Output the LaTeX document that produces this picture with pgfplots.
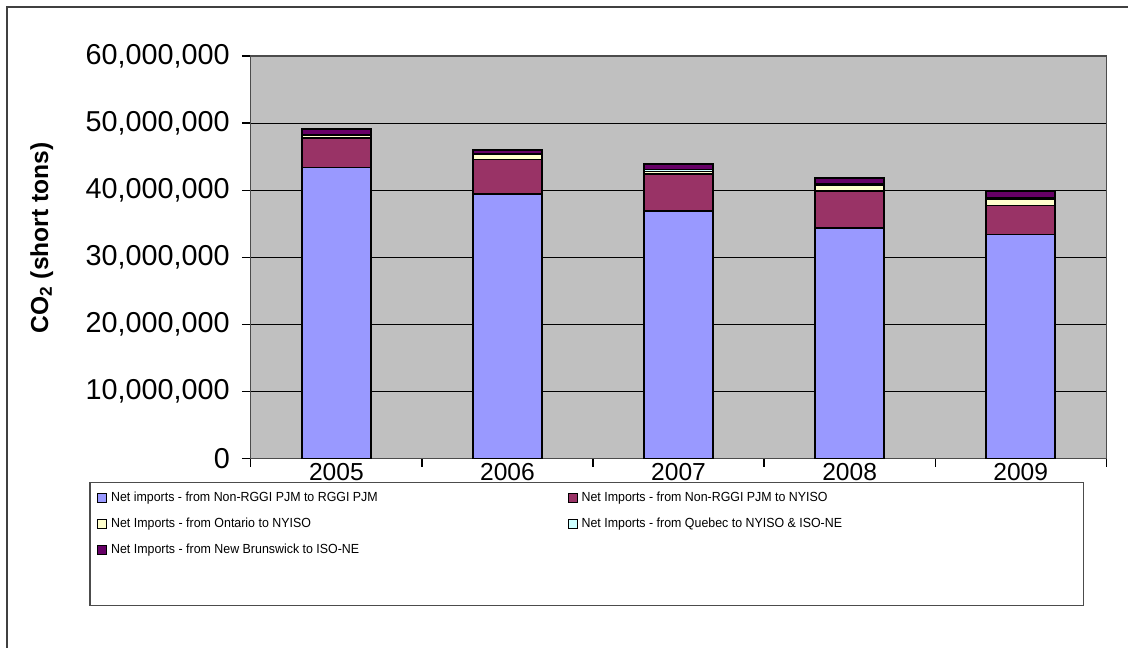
\documentclass[border=0pt]{standalone}
\usepackage{fontspec}
\setmainfont{Liberation Sans}
\usepackage{graphicx}
\usepackage{pgfplots}
\pgfplotsset{compat=1.18}

\definecolor{pjmblue}{HTML}{9999FF}
\definecolor{nyisomaroon}{HTML}{993366}
\definecolor{ontyellow}{HTML}{FFFFCC}
\definecolor{quecyan}{HTML}{CCFFFF}
\definecolor{nbpurple}{HTML}{660066}
\definecolor{plotgray}{HTML}{C0C0C0}

\pgfplotsset{
  legsq/.style={legend image code/.code={%
    \draw[##1,line width=0.4pt] (0pt,-2.25pt) rectangle (4.5pt,2.25pt);}},
}
% legend text, slightly condensed, in a fixed-width cell
\newcommand{\legtxt}[1]{\scalebox{0.94}[1]{#1}}
\newcommand{\legcell}[1]{\makebox[228.5pt][l]{\legtxt{#1}}}

\begin{document}
\begin{tikzpicture}
% page area (axis box lower-left corner sits at the origin)
\path (-125.5pt,229.5pt) rectangle (439pt,-94.5pt);
% outer chart frame
\draw[black!75,line width=0.75pt] (-122pt,-94.5pt) -- (-122pt,226pt) -- (439pt,226pt);
% legend frame
\draw[black!70,line width=0.6pt,fill=white] (-80.5pt,-12pt) rectangle (416.5pt,-73.5pt);

\begin{axis}[
  at={(0pt,0pt)}, anchor=south west,
  scale only axis, width=428pt, height=201.5pt,
  ybar stacked, bar width=34.5pt,
  xmin=-0.5, xmax=4.5, ymin=0, ymax=60000000,
  xtick={0,1,2,3,4},
  xticklabels={2005,2006,2007,2008,2009},
  minor xtick={-0.5,0.5,1.5,2.5,3.5,4.5},
  ytick={0,10000000,20000000,30000000,40000000,50000000,60000000},
  scaled y ticks=false,
  tick label style={font=\fontsize{14.4pt}{16pt}\selectfont},
  y tick label style={xshift=-2.5pt, /pgf/number format/.cd, fixed, precision=0, 1000 sep={,}, assume math mode=true},
  x tick label style={font=\fontsize{12.3pt}{14pt}\selectfont, yshift=5.5pt},
  tick align=outside, xtick pos=bottom, ytick pos=left,
  major tick length=4.5pt, minor tick length=4pt,
  major x tick style={draw=none},
  minor x tick style={black, line width=0.6pt},
  major y tick style={black, line width=0.6pt},
  ymajorgrids, grid style={black, line width=0.5pt},
  axis background/.style={fill=plotgray},
  axis line style={black!70, line width=0.6pt},
  every axis plot/.append style={draw=black, line width=0.75pt},
  ylabel={\textbf{CO\textsubscript{2} (short tons)}},
  ylabel style={at={(axis description cs:-0.2445,0.548)}, anchor=center,
    font=\fontsize{12.3pt}{14pt}\selectfont},
  legend columns=2,
  legend style={at={(axis description cs:-0.1799,-0.0794)}, anchor=north west,
    draw=none, fill=none, inner sep=0pt, row sep=6.5pt,
    font=\fontsize{6.6pt}{7.5pt}\selectfont,
    nodes={inner sep=0pt, text height=5pt, text depth=1.5pt},
    /tikz/every odd column/.style={column sep=2pt}},
  legend cell align=left,
]
\addplot[fill=pjmblue, legsq] coordinates {(0,43400000) (1,39400000) (2,36900000) (3,34400000) (4,33400000)};
\addlegendentry{\legcell{Net imports - from Non-RGGI PJM to RGGI PJM}}
\addplot[fill=nyisomaroon, legsq] coordinates {(0,4400000) (1,5200000) (2,5500000) (3,5500000) (4,4300000)};
\addlegendentry{\legtxt{Net Imports - from Non-RGGI PJM to NYISO}}
\addplot[fill=ontyellow, legsq] coordinates {(0,400000) (1,700000) (2,400000) (3,900000) (4,1000000)};
\addlegendentry{\legcell{Net Imports - from Ontario to NYISO}}
\addplot[fill=quecyan, legsq] coordinates {(0,100000) (1,100000) (2,300000) (3,100000) (4,200000)};
\addlegendentry{\legtxt{Net Imports - from Quebec to NYISO \& ISO-NE}}
\addplot[fill=nbpurple, legsq] coordinates {(0,800000) (1,600000) (2,800000) (3,900000) (4,900000)};
\addlegendentry{\legcell{Net Imports - from New Brunswick to ISO-NE}}
\end{axis}
\end{tikzpicture}
\end{document}
